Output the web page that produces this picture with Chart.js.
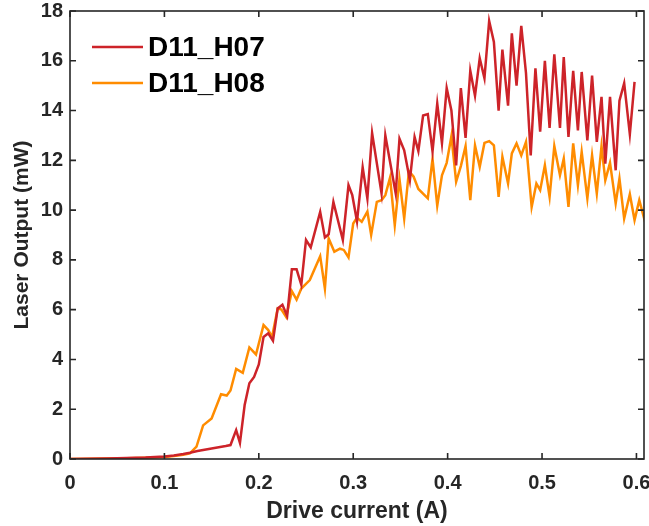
<!DOCTYPE html>
<html>
<head>
<meta charset="utf-8">
<script src="https://cdn.jsdelivr.net/npm/chart.js@4"></script>
<style>
  html, body { margin: 0; padding: 0; background: #fff; }
  #wrap { width: 649px; height: 526px; position: relative; }
</style>
</head>
<body>
<div id="wrap"><canvas id="grafica"></canvas></div>
<script>
// Drive current (A) / laser output (mW)
const currentH07 = [0, 0.02, 0.04, 0.06, 0.08, 0.1, 0.11, 0.12, 0.127, 0.135, 0.15, 0.165, 0.17, 0.176, 0.18, 0.185, 0.19, 0.195, 0.2, 0.205, 0.21, 0.215, 0.22, 0.225, 0.23, 0.235, 0.24, 0.245, 0.25, 0.255, 0.265, 0.27, 0.274, 0.279, 0.289, 0.295, 0.299, 0.304, 0.31, 0.315, 0.32, 0.33, 0.334, 0.345, 0.349, 0.354, 0.36, 0.365, 0.369, 0.374, 0.379, 0.384, 0.389, 0.394, 0.399, 0.404, 0.409, 0.414, 0.419, 0.424, 0.429, 0.434, 0.439, 0.444, 0.449, 0.454, 0.458, 0.464, 0.468, 0.473, 0.478, 0.483, 0.488, 0.493, 0.498, 0.503, 0.508, 0.513, 0.519, 0.523, 0.528, 0.533, 0.538, 0.542, 0.548, 0.553, 0.558, 0.563, 0.567, 0.572, 0.578, 0.582, 0.587, 0.593, 0.598];
const powerH07 = [0, 0.01, 0.02, 0.04, 0.06, 0.1, 0.14, 0.2, 0.25, 0.32, 0.42, 0.52, 0.56, 1.16, 0.65, 2.17, 3.04, 3.3, 3.8, 4.9, 5.05, 4.75, 6.05, 6.2, 5.75, 7.62, 7.62, 7.0, 8.8, 8.5, 9.93, 8.9, 9.03, 10.33, 8.8, 11.0, 10.6, 9.55, 11.72, 10.47, 13.1, 10.67, 13.0, 10.67, 12.87, 12.4, 11.2, 12.94, 12.37, 13.8, 13.86, 12.36, 14.28, 12.69, 14.9, 14.0, 11.8, 14.9, 12.9, 15.6, 14.6, 16.1, 15.3, 17.6, 16.76, 14.0, 16.45, 14.2, 17.1, 15.0, 17.4, 15.5, 12.2, 15.7, 13.15, 16.0, 13.3, 16.26, 13.3, 16.15, 12.94, 15.6, 13.2, 15.55, 12.8, 15.4, 12.74, 14.55, 11.87, 14.55, 11.6, 14.4, 15.1, 13.05, 15.15];

const currentH08 = [0, 0.02, 0.04, 0.06, 0.08, 0.1, 0.11, 0.12, 0.127, 0.134, 0.141, 0.15, 0.16, 0.166, 0.17, 0.176, 0.183, 0.19, 0.197, 0.205, 0.21, 0.214, 0.22, 0.224, 0.229, 0.235, 0.24, 0.245, 0.254, 0.265, 0.27, 0.274, 0.28, 0.286, 0.29, 0.295, 0.3, 0.304, 0.309, 0.315, 0.319, 0.325, 0.33, 0.334, 0.339, 0.344, 0.349, 0.354, 0.359, 0.364, 0.369, 0.379, 0.384, 0.389, 0.394, 0.399, 0.404, 0.409, 0.414, 0.419, 0.424, 0.429, 0.434, 0.439, 0.444, 0.449, 0.454, 0.458, 0.464, 0.468, 0.473, 0.478, 0.483, 0.489, 0.494, 0.498, 0.503, 0.508, 0.513, 0.519, 0.523, 0.528, 0.533, 0.538, 0.542, 0.548, 0.553, 0.558, 0.563, 0.567, 0.572, 0.578, 0.582, 0.587, 0.593, 0.598, 0.603, 0.61];
const powerH08 = [0, 0.01, 0.02, 0.03, 0.05, 0.08, 0.12, 0.17, 0.23, 0.5, 1.35, 1.63, 2.6, 2.55, 2.75, 3.62, 3.46, 4.48, 4.2, 5.38, 5.18, 4.9, 6.05, 6.0, 5.7, 6.74, 6.4, 6.85, 7.19, 8.15, 6.85, 8.86, 8.33, 8.45, 8.4, 8.1, 9.46, 9.7, 9.53, 9.94, 9.0, 10.33, 10.4, 10.6, 11.3, 9.4, 11.25, 9.66, 11.57, 11.34, 10.85, 10.47, 12.06, 10.18, 11.4, 11.9, 12.97, 11.14, 11.77, 12.57, 10.4, 12.6, 11.74, 12.7, 12.77, 12.6, 10.53, 12.14, 11.07, 12.28, 12.68, 12.2, 12.74, 10.13, 11.07, 10.8, 11.8, 10.53, 12.57, 11.4, 12.07, 10.13, 12.68, 11.0, 12.34, 10.47, 12.2, 10.67, 12.57, 11.2, 11.9, 10.27, 11.27, 9.66, 10.64, 9.6, 10.4, 9.4];

const yTicks = [0, 2, 4, 6, 8, 10, 12, 14, 16, 18];

const FONT = "'Liberation Sans', Arial, sans-serif";
const INK = '#262626';

// caja estilo MATLAB con marcas hacia dentro + leyenda dentro del área
const boxPlugin = {
  id: 'box',
  afterDraw(chart) {
    const { ctx, chartArea: a, scales } = chart;
    ctx.save();
    ctx.strokeStyle = INK;
    ctx.lineWidth = 1.6;
    ctx.strokeRect(a.left, a.top, a.right - a.left, a.bottom - a.top);
    const len = 6;
    ctx.beginPath();
    scales.x.ticks.forEach(t => {
      const px = scales.x.getPixelForValue(t.value);
      ctx.moveTo(px, a.bottom); ctx.lineTo(px, a.bottom - len);
      ctx.moveTo(px, a.top); ctx.lineTo(px, a.top + len);
    });
    scales.y.ticks.forEach(t => {
      const py = scales.y.getPixelForValue(t.value);
      ctx.moveTo(a.left, py); ctx.lineTo(a.left + len, py);
      ctx.moveTo(a.right, py); ctx.lineTo(a.right - len, py);
    });
    ctx.stroke();

    // leyenda
    ctx.font = 'bold 28px ' + FONT;
    ctx.textBaseline = 'middle';
    ctx.textAlign = 'left';
    chart.data.datasets.forEach((ds, i) => {
      const y = 47 + i * 36;
      ctx.strokeStyle = ds.borderColor;
      ctx.lineWidth = 2.5;
      ctx.beginPath();
      ctx.moveTo(92, y); ctx.lineTo(143, y);
      ctx.stroke();
      ctx.fillStyle = '#000';
      ctx.fillText(ds.label, 148, y + 1);
    });
    ctx.restore();
  }
};

const ctx = document.getElementById('grafica').getContext('2d');

new Chart(ctx, {
  type: 'line',
  data: {
    datasets: [
      {
        label: 'D11_H07',
        data: currentH07.map((x, i) => ({ x: x, y: powerH07[i] })),
        borderColor: '#CD2329',
        backgroundColor: 'transparent',
        borderWidth: 2.5,
        tension: 0,
        pointRadius: 0,
      },
      {
        label: 'D11_H08',
        data: currentH08.map((x, i) => ({ x: x, y: powerH08[i] })),
        borderColor: '#FF8C00',
        backgroundColor: 'transparent',
        borderWidth: 2.5,
        tension: 0,
        pointRadius: 0,
      },
    ],
  },
  options: {
    responsive: true,
    maintainAspectRatio: false,
    animation: false,
    layout: { padding: { top: 11, right: 5, left: 0, bottom: 0 } },
    plugins: {
      legend: { display: false },
      tooltip: { enabled: false },
    },
    scales: {
      x: {
        type: 'linear',
        min: 0,
        max: 0.608,
        grid: { display: false, drawTicks: false },
        border: { display: false },
        ticks: {
          stepSize: 0.1,
          includeBounds: false,
          maxRotation: 0,
          autoSkip: false,
          padding: 12,
          color: '#262626',
          font: { family: FONT, size: 20, weight: 'bold' },
        },
        title: {
          display: true,
          text: 'Drive current (A)',
          color: '#262626',
          padding: { top: 0, bottom: 1 },
          font: { family: FONT, size: 23, weight: 'bold' },
        },
        afterFit(scale) {
          scale.height = 67;
          scale.paddingLeft = 0;
          scale.paddingRight = 0;
        },
      },
      y: {
        min: 0,
        max: 18,
        grid: { display: false, drawTicks: false },
        border: { display: false },
        afterBuildTicks(scale) { scale.ticks = yTicks.map(v => ({ value: v })); },
        ticks: {
          padding: 7,
          color: '#262626',
          font: { family: FONT, size: 20, weight: 'bold' },
        },
        title: {
          display: true,
          text: 'Laser Output (mW)',
          color: '#262626',
          padding: { top: 10, bottom: 0 },
          font: { family: FONT, size: 21, weight: 'bold' },
        },
        afterFit(scale) {
          scale.width = 70;
          scale.paddingTop = 0;
          scale.paddingBottom = 0;
        },
      },
    },
  },
  plugins: [boxPlugin],
});
</script>
</body>
</html>
